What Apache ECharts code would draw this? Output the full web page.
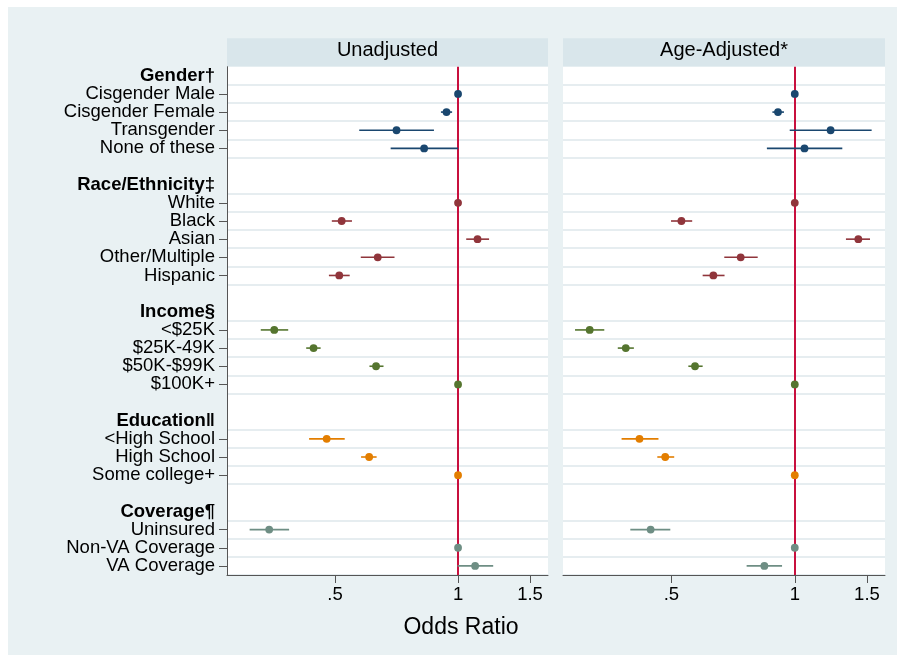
<!DOCTYPE html>
<html><head><meta charset="utf-8">
<script src="https://cdn.jsdelivr.net/npm/echarts@6/dist/echarts.min.js"></script>
<style>html,body{margin:0;padding:0;background:#fff}#c{width:904px;height:662px}</style>
</head><body><div id="c"></div>
<script>
const panelTitles = ['Unadjusted', 'Age-Adjusted*'];
const tickValues = [0.5, 1, 1.5];
const tickLabels = ['.5', '1', '1.5'];
const axisTitle = 'Odds Ratio';
const xRange = [0.272, 1.66];

// each entry: [odds ratio, CI low, CI high]
const genderHeader = 'Gender†';
const genderLabels = ['Cisgender Male', 'Cisgender Female', 'Transgender', 'None of these'];
const genderUnadj = [[1, 1, 1], [0.937, 0.908, 0.967], [0.707, 0.573, 0.873], [0.826, 0.684, 1.0]];
const genderAdj = [[1, 1, 1], [0.910, 0.882, 0.941], [1.223, 0.972, 1.540], [1.056, 0.855, 1.306]];

const raceHeader = 'Race/Ethnicity‡';
const raceLabels = ['White', 'Black', 'Asian', 'Other/Multiple', 'Hispanic'];
const raceUnadj = [[1, 1, 1], [0.519, 0.491, 0.550], [1.116, 1.047, 1.191], [0.636, 0.578, 0.699], [0.512, 0.483, 0.543]];
const raceAdj = [[1, 1, 1], [0.529, 0.499, 0.562], [1.429, 1.333, 1.526], [0.738, 0.673, 0.812], [0.633, 0.596, 0.674]];

const incomeHeader = 'Income§';
const incomeLabels = ['<$25K', '$25K-49K', '$50K-$99K', '$100K+'];
const incomeUnadj = [[0.355, 0.329, 0.384], [0.443, 0.425, 0.461], [0.630, 0.607, 0.657], [1, 1, 1]];
const incomeAdj = [[0.316, 0.291, 0.343], [0.387, 0.370, 0.405], [0.571, 0.550, 0.596], [1, 1, 1]];

const eduHeader = 'Education‖';
const eduLabels = ['<High School', 'High School', 'Some college+'];
const eduUnadj = [[0.477, 0.432, 0.528], [0.606, 0.579, 0.632], [1, 1, 1]];
const eduAdj = [[0.418, 0.378, 0.465], [0.483, 0.462, 0.508], [1, 1, 1]];

const covHeader = 'Coverage¶';
const covLabels = ['Uninsured', 'Non-VA Coverage', 'VA Coverage'];
const covUnadj = [[0.345, 0.309, 0.386], [1, 1, 1], [1.101, 0.997, 1.219]];
const covAdj = [[0.445, 0.397, 0.497], [1, 1, 1], [0.843, 0.763, 0.931]];

const groupColors = ['#1a476f', '#90353b', '#55752f', '#e37e00', '#6e8e84'];

const groups = [
  { header: genderHeader, labels: genderLabels, vals: [genderUnadj, genderAdj] },
  { header: raceHeader, labels: raceLabels, vals: [raceUnadj, raceAdj] },
  { header: incomeHeader, labels: incomeLabels, vals: [incomeUnadj, incomeAdj] },
  { header: eduHeader, labels: eduLabels, vals: [eduUnadj, eduAdj] },
  { header: covHeader, labels: covLabels, vals: [covUnadj, covAdj] }
];

// build rows
const rows = [];
const isItem = [];
const isHeader = [];
const groupRowStart = [];
groups.forEach((g, gi) => {
  if (gi > 0) { rows.push(' '.repeat(gi)); isItem.push(false); isHeader.push(false); }
  rows.push(g.header); isItem.push(false); isHeader.push(true);
  groupRowStart.push(rows.length);
  g.labels.forEach(l => { rows.push(l); isItem.push(true); isHeader.push(false); });
});

const FONT = '"Liberation Sans", Arial, Helvetica, sans-serif';
const LN = Math.log;
const gridTop = 66.7, gridH = 508.3;
const grids = [
  { left: 227, top: gridTop, width: 321, height: gridH },
  { left: 563, top: gridTop, width: 322, height: gridH }
];

const xAxes = grids.map((g, i) => ({
  type: 'value', gridIndex: i, position: 'bottom',
  min: LN(xRange[0]), max: LN(xRange[1]),
  axisLine: { show: true, onZero: false, lineStyle: { color: '#555', width: 1 } },
  axisTick: { show: true, length: 8, inside: false, customValues: tickValues.map(LN), lineStyle: { color: '#555' } },
  axisLabel: {
    show: true, customValues: tickValues.map(LN), margin: 10,
    color: '#000', fontSize: 18.5, fontFamily: FONT,
    formatter: v => { const k = tickValues.findIndex(t => Math.abs(LN(t) - v) < 1e-6); return k >= 0 ? tickLabels[k] : ''; }
  },
  splitLine: { show: false }
}));

const yAxes = grids.map((g, i) => ({
  type: 'category', gridIndex: i, data: rows, inverse: true, position: 'left',
  axisLine: { show: i === 0, onZero: false, lineStyle: { color: '#555', width: 1 } },
  axisTick: { show: i === 0, length: 8, alignWithLabel: true, interval: (idx) => isItem[idx], lineStyle: { color: '#555' } },
  axisLabel: {
    show: i === 0, interval: 0, margin: 12, color: '#000', fontSize: 18.5, fontFamily: FONT,
    formatter: (v, idx) => isHeader[idx] ? '{b|' + v + '}' : v,
    rich: { b: { fontWeight: 'bold', fontSize: 18.5, fontFamily: FONT, color: '#000' } }
  },
  splitLine: { show: true, interval: (idx) => isItem[idx] || (idx > 0 && isItem[idx - 1]), lineStyle: { color: '#e6edf0', width: 2 } }
}));

const series = [];
grids.forEach((g, pi) => {
  series.push({
    type: 'line', xAxisIndex: pi, yAxisIndex: pi, data: [], z: 2, silent: true,
    markLine: {
      silent: true, symbol: 'none', animation: false,
      label: { show: false },
      lineStyle: { color: '#c8103e', width: 2, type: 'solid' },
      data: [{ xAxis: 0 }]
    }
  });
  groups.forEach((grp, gi) => {
    const col = groupColors[gi];
    const data = grp.vals[pi].map((v, k) => [LN(v[0]), LN(v[1]), LN(v[2]), groupRowStart[gi] + k]);
    series.push({
      type: 'custom', xAxisIndex: pi, yAxisIndex: pi, z: 5,
      encode: { x: [0, 1, 2], y: 3 },
      data: data,
      renderItem: (params, api) => {
        const y = api.value(3);
        const p = api.coord([api.value(0), y]);
        const lo = api.coord([api.value(1), y]);
        const hi = api.coord([api.value(2), y]);
        return {
          type: 'group', children: [
            { type: 'line', shape: { x1: lo[0], y1: lo[1], x2: hi[0], y2: hi[1] }, style: { stroke: col, lineWidth: 1.6 } },
            { type: 'circle', shape: { cx: p[0], cy: p[1], r: 3.9 }, style: { fill: col } }
          ]
        };
      }
    });
  });
});

const graphic = [
  { type: 'rect', z: -100, shape: { x: 8, y: 7, width: 889, height: 648 }, style: { fill: '#e9f1f3' } },
  { type: 'rect', z: -50, shape: { x: 227, y: 38.3, width: 321, height: 28.4 }, style: { fill: '#d9e6eb' } },
  { type: 'rect', z: -50, shape: { x: 563, y: 38.3, width: 322, height: 28.4 }, style: { fill: '#d9e6eb' } },
  { type: 'text', z: 10, x: 387.5, y: 50.5, style: { text: panelTitles[0], fill: '#000', font: '20px ' + FONT, textAlign: 'center', textVerticalAlign: 'middle' } },
  { type: 'text', z: 10, x: 724, y: 50.5, style: { text: panelTitles[1], fill: '#000', font: '20px ' + FONT, textAlign: 'center', textVerticalAlign: 'middle' } },
  { type: 'text', z: 10, x: 461, y: 628, style: { text: axisTitle, fill: '#000', font: '23px ' + FONT, textAlign: 'center', textVerticalAlign: 'middle' } }
];

const chart = echarts.init(document.getElementById('c'), null, { renderer: 'canvas' });
chart.setOption({
  animation: false,
  backgroundColor: '#ffffff',
  grid: grids.map(g => Object.assign({ show: true, backgroundColor: '#ffffff', borderWidth: 0, containLabel: false }, g)),
  xAxis: xAxes,
  yAxis: yAxes,
  series: series,
  graphic: graphic
});
</script></body></html>
